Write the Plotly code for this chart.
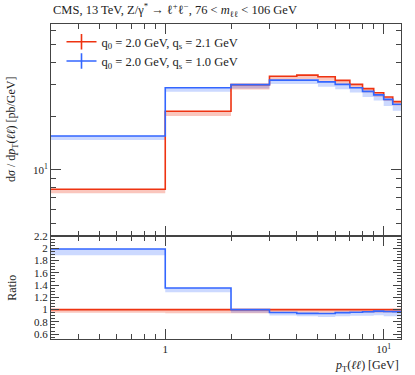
import plotly.graph_objects as go
from plotly.subplots import make_subplots

# Bin edges in pT(ll) [GeV]; first bin starts at 0 (clipped on the log axis)
edges = [0.01, 1, 2, 3, 4, 5, 6, 7, 8, 9, 10, 11, 12]

# dsigma/dpT [pb/GeV]
red_vals = [7.8, 21.3, 30.0, 33.4, 33.9, 33.2, 31.7, 30.1, 28.5, 27.0, 25.6, 24.1]
blue_vals = [15.5, 28.8, 30.0, 31.8, 31.8, 31.1, 30.1, 28.8, 27.5, 26.3, 24.8, 23.3]

# relative width of the uncertainty bands (below the central line)
red_err = [0.05, 0.06, 0.06, 0.05, 0.05, 0.05, 0.05, 0.05, 0.05, 0.05, 0.05, 0.05]
blue_err = [0.05, 0.05, 0.05, 0.05, 0.05, 0.06, 0.06, 0.06, 0.07, 0.07, 0.08, 0.08]

labels = ["q<sub>0</sub> = 2.0 GeV, q<sub>s</sub> = 2.1 GeV",
          "q<sub>0</sub> = 2.0 GeV, q<sub>s</sub> = 1.0 GeV"]

red_line = "#EE3311"
blue_line = "#3366FF"
red_band = "rgba(238,51,17,0.28)"
blue_band = "rgba(51,102,255,0.25)"

FONT = "Liberation Serif"

fig = make_subplots(rows=2, cols=1, shared_xaxes=True, vertical_spacing=0,
                    row_heights=[0.673, 0.327])


def steps(vals):
    return list(vals) + [vals[-1]]


series = [
    (red_vals, red_err, red_line, red_band),
    (blue_vals, blue_err, blue_line, blue_band),
]

ref = red_vals
for vals, err, lc, bc in series:
    ratio = [v / r for v, r in zip(vals, ref)]
    for row, y in [(1, vals), (2, ratio)]:
        lo = [v * (1 - e) for v, e in zip(y, err)]
        fig.add_trace(go.Scatter(x=edges, y=steps(y), mode="lines",
                                 line=dict(width=0, shape="hv"),
                                 showlegend=False, hoverinfo="skip"), row=row, col=1)
        fig.add_trace(go.Scatter(x=edges, y=steps(lo), mode="lines",
                                 line=dict(width=0, shape="hv"), fill="tonexty",
                                 fillcolor=bc, showlegend=False, hoverinfo="skip"),
                      row=row, col=1)

for vals, err, lc, bc in series:
    ratio = [v / r for v, r in zip(vals, ref)]
    for row, y in [(1, vals), (2, ratio)]:
        fig.add_trace(go.Scatter(x=edges, y=steps(y), mode="lines",
                                 line=dict(color=lc, width=1.6, shape="hv"),
                                 showlegend=False), row=row, col=1)

# legend entries (line with vertical bar)
for name, lc in zip(labels, [red_line, blue_line]):
    fig.add_trace(go.Scatter(x=[None], y=[None], mode="lines+markers", name=name,
                             line=dict(color=lc, width=1.6),
                             marker=dict(symbol="line-ns-open", size=11,
                                         line=dict(color=lc, width=1.6))),
                  row=1, col=1)

axis_common = dict(showline=True, linecolor="#444", linewidth=1, mirror="allticks",
                   ticks="inside", tickcolor="#444", showgrid=False, zeroline=False,
                   tickfont=dict(family=FONT, size=11, color="#222"))

minor_x = [0.3, 0.4, 0.5, 0.6, 0.7, 0.8, 0.9, 2, 3, 4, 5, 6, 7, 8, 9]
for row in (1, 2):
    fig.update_xaxes(type="log", range=[-0.523, 1.0792], tickmode="array",
                     tickvals=[1, 10], ticktext=["1", "10<sup>1</sup>"], ticklen=10,
                     minor=dict(ticks="inside", ticklen=5, tickvals=minor_x,
                                tickcolor="#444", showgrid=False),
                     **axis_common, row=row, col=1)
fig.update_xaxes(showticklabels=False, row=1, col=1)

fig.update_yaxes(type="log", range=[0.631, 1.816], tickmode="array",
                 tickvals=[10], ticktext=["10<sup>1</sup>"], ticklen=10,
                 minor=dict(ticks="inside", ticklen=5,
                            tickvals=[5, 6, 7, 8, 9, 20, 30, 40, 50, 60],
                            tickcolor="#444", showgrid=False),
                 **axis_common, row=1, col=1)

fig.update_yaxes(range=[0.52, 2.2], tickmode="array",
                 tickvals=[0.6, 0.8, 1, 1.2, 1.4, 1.6, 1.8, 2, 2.2],
                 ticktext=["0.6", "0.8", "1", "1.2", "1.4", "1.6", "1.8", "2", "2.2"],
                 ticklen=8,
                 minor=dict(ticks="inside", ticklen=4, dtick=0.05, tick0=0,
                            tickcolor="#444", showgrid=False),
                 **axis_common, row=2, col=1)

fig.update_layout(
    width=415, height=375,
    margin=dict(l=51, r=14, t=24, b=36),
    plot_bgcolor="white", paper_bgcolor="white",
    font=dict(family=FONT, size=12, color="#222"),
    showlegend=True,
    legend=dict(x=0.03, y=0.99, xanchor="left", yanchor="top", traceorder="normal",
                bgcolor="rgba(0,0,0,0)", font=dict(family=FONT, size=12.5),
                itemwidth=30, tracegroupgap=0),
    annotations=[
        dict(text="CMS, 13 TeV, Z/γ<sup>*</sup> → ℓ<sup>+</sup>ℓ<sup>−</sup>, 76 &lt; <i>m</i><sub>ℓℓ</sub> &lt; 106 GeV",
             x=0, y=1, xref="paper", yref="paper", xanchor="left", yanchor="bottom",
             yshift=3, showarrow=False, font=dict(family=FONT, size=12.5)),
        dict(text="d<i>σ</i> / d<i>p</i><sub>T</sub>(<i>ℓℓ</i>) [pb/GeV]",
             x=0, y=0.6635, xref="paper", yref="paper", xanchor="center", yanchor="middle",
             xshift=-39, textangle=-90, showarrow=False, font=dict(family=FONT, size=12)),
        dict(text="Ratio", x=0, y=0.163, xref="paper", yref="paper",
             xanchor="center", yanchor="middle", xshift=-39, textangle=-90,
             showarrow=False, font=dict(family=FONT, size=12)),
        dict(text="<i>p</i><sub>T</sub>(<i>ℓℓ</i>) [GeV]", x=1, y=0, xref="paper",
             yref="paper", xanchor="right", yanchor="top", yshift=-17,
             showarrow=False, font=dict(family=FONT, size=12)),
    ],
)

fig.write_html("out.html", config={"displayModeBar": False},
               post_script="document.body.style.margin='0';")
